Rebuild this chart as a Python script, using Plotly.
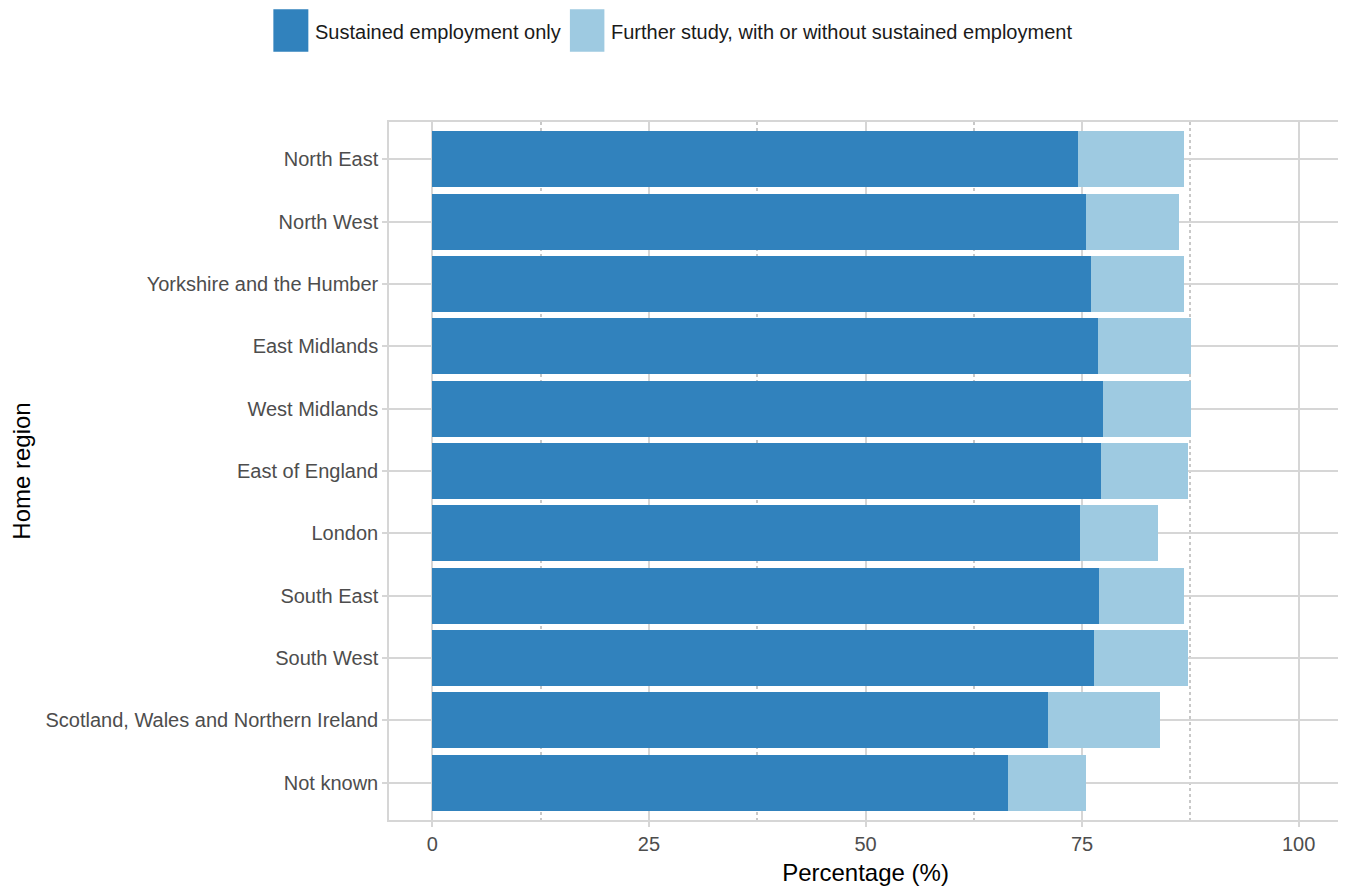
import plotly.graph_objects as go

regions = [
    "North East", "North West", "Yorkshire and the Humber", "East Midlands",
    "West Midlands", "East of England", "London", "South East", "South West",
    "Scotland, Wales and Northern Ireland", "Not known",
]
employment_only = [74.5, 75.5, 76.0, 76.8, 77.4, 77.2, 74.8, 77.0, 76.4, 71.1, 66.5]
further_study = [12.3, 10.7, 10.8, 10.8, 10.2, 10.0, 9.0, 9.8, 10.8, 12.9, 8.9]
x_ticks = [0, 25, 50, 75, 100]
x_minor = [12.5, 37.5, 62.5, 87.5]
series_names = ["Sustained employment only", "Further study, with or without sustained employment"]
series_colors = ["#3182bd", "#9ecae1"]

# the page body has an 8px margin, so the figure is placed 8px in from the top-left
OFF = 8
W, H = 1346 - OFF, 889 - OFF
PANEL_L, PANEL_R, PANEL_T, PANEL_B = 389 - OFF, 1342.5 - OFF, 122 - OFF, 820 - OFF
ML, MR, MT, MB = PANEL_L, W - PANEL_R, PANEL_T, H - PANEL_B
PW, PH = W - ML - MR, H - MT - MB


def px_x(p):
    return (p - OFF - ML) / PW


def px_y(p):
    return (H - MB - (p - OFF)) / PH


grid = "#d6d6d6"
tickc = "#4d4d4d"
font = "Liberation Sans, Arial, sans-serif"

fig = go.Figure()
for name, vals, col in zip(series_names, [employment_only, further_study], series_colors):
    fig.add_trace(go.Bar(
        y=regions, x=vals, orientation="h", name=name,
        marker=dict(color=col, line=dict(width=0)), showlegend=False,
    ))

fig.update_layout(
    width=W, height=H,
    margin=dict(l=ML, r=MR, t=MT, b=MB, autoexpand=False),
    barmode="stack", bargap=0.1,
    plot_bgcolor="white", paper_bgcolor="white",
    font=dict(family=font, size=20, color=tickc),
    xaxis=dict(
        range=[-5, 105], tickvals=x_ticks, ticktext=[str(v) for v in x_ticks],
        showgrid=True, gridcolor=grid, gridwidth=1.5,
        minor=dict(tickvals=x_minor, showgrid=True, gridcolor="#c8c8c8",
                   griddash="dot", gridwidth=1.5, ticks=""),
        showline=True, mirror=True, linecolor=grid, linewidth=1.5,
        ticks="outside", ticklen=5, tickwidth=1.5, tickcolor=grid,
        tickfont=dict(size=20, color=tickc), zeroline=False,
        title=dict(text="Percentage (%)", font=dict(size=24, color="black"), standoff=10),
        automargin=False,
    ),
    yaxis=dict(
        categoryorder="array", categoryarray=regions, range=[10.6, -0.6],
        showgrid=True, gridcolor=grid, gridwidth=1.5,
        showline=True, mirror=True, linecolor=grid, linewidth=1.5,
        ticks="outside", ticklen=5, tickwidth=1.5, tickcolor=grid,
        tickfont=dict(size=20, color=tickc), zeroline=False,
        title=dict(text="Home region", font=dict(size=24, color="black"), standoff=10),
        automargin=False,
    ),
)

legend_keys = [(273.3, 308.3), (570.0, 604.5)]
legend_text_x = [313, 609]
for (x0, x1), tx, name, col in zip(legend_keys, legend_text_x, series_names, series_colors):
    fig.add_shape(type="rect", xref="paper", yref="paper",
                  x0=px_x(x0), x1=px_x(x1), y0=px_y(51.7), y1=px_y(9.3),
                  fillcolor=col, line=dict(width=0))
    fig.add_annotation(xref="paper", yref="paper", x=px_x(tx), y=px_y(32.3),
                       xanchor="left", yanchor="middle", showarrow=False,
                       text=name, font=dict(size=20, color="#1a1a1a", family=font))

fig.write_html("out.html")
